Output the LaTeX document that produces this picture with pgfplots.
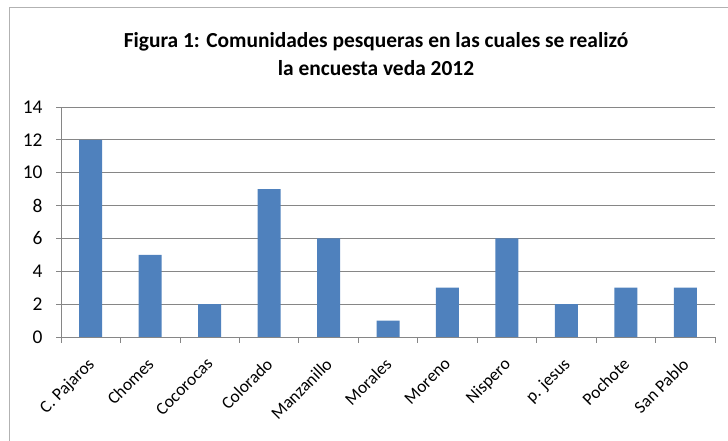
\documentclass[border=0pt]{standalone}
\usepackage{pgfplots}
\pgfplotsset{compat=1.18}
\usepackage{fontspec}
\setmainfont{Carlito}
\definecolor{barblue}{HTML}{4F81BD}
\definecolor{gridgray}{HTML}{868686}
\begin{document}
\begin{tikzpicture}[x=1bp,y=1bp]
\useasboundingbox (-61,-104) rectangle (667,337);
\draw[gray!60, line width=1bp] (-51,-110) rectangle (675,329);
\begin{axis}[
  at={(0,0)}, anchor=south west,
  scale only axis, width=654bp, height=230bp,
  ymin=0, ymax=14, ytick={0,2,...,14},
  xmin=-0.5, xmax=10.5, xtick={0,...,10},
  minor xtick={-0.5,0.5,...,10.5},
  xticklabels={C. Pajaros,Chomes,Cocorocas,Colorado,Manzanillo,Morales,Moreno,Nispero,p. jesus,Pochote,San Pablo},
  axis x line*=bottom, axis y line*=left,
  axis line style={gridgray, line width=0.8pt, -},
  tick align=outside,
  major tick length=5bp, minor tick length=6bp,
  major x tick style={draw=none},
  minor x tick style={gridgray, line width=0.8pt},
  ytick style={gridgray, line width=0.8pt},
  ymajorgrids, grid style={gridgray, line width=0.8pt},
  /pgf/number format/assume math mode=true,
  y tick label style={font=\fontsize{19.5}{19.5}\selectfont, xshift=-10bp},
  x tick label style={xshift=-4bp, yshift=-10bp, rotate=45, anchor=north east, font=\fontsize{17.5}{17.5}\selectfont},
  ybar, bar width=23bp,
]
\addplot[fill=barblue, draw=none] coordinates {
  (0,12) (1,5) (2,2) (3,9) (4,6) (5,1) (6,3) (7,6) (8,2) (9,3) (10,3)
};
\end{axis}
\node[align=center, font=\bfseries\fontsize{21.5}{28}\selectfont] at (315,283)
  {Figura 1: Comunidades pesqueras en las cuales se realizó\\la encuesta veda 2012};
\end{tikzpicture}
\end{document}
